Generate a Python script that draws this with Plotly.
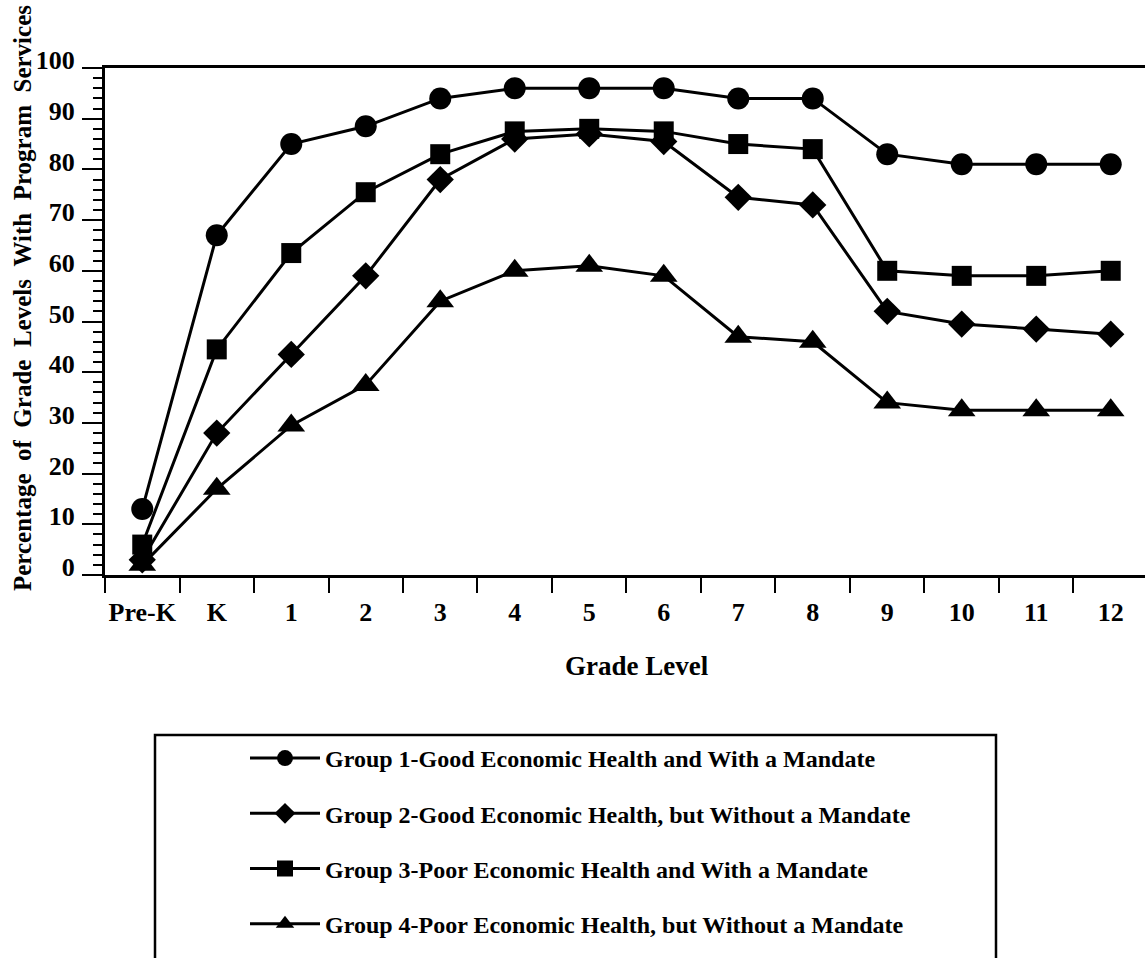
import plotly.graph_objects as go

grades = ["Pre-K", "K", "1", "2", "3", "4", "5", "6", "7", "8", "9", "10", "11", "12"]

group1 = [13, 67, 85, 88.5, 94, 96, 96, 96, 94, 94, 83, 81, 81, 81]
group2 = [3, 28, 43.5, 59, 78, 86, 87, 85.5, 74.5, 73, 52, 49.5, 48.5, 47.5]
group3 = [6, 44.5, 63.5, 75.5, 83, 87.5, 88, 87.5, 85, 84, 60, 59, 59, 60]
group4 = [2, 17, 29.5, 37.5, 54, 60, 61, 59, 47, 46, 34, 32.5, 32.5, 32.5]

names = [
    "Group 1-Good Economic Health and With a Mandate",
    "Group 2-Good Economic Health, but Without a Mandate",
    "Group 3-Poor Economic Health and With a Mandate",
    "Group 4-Poor Economic Health, but Without a Mandate",
]
y_ticks = list(range(0, 101, 10))

series = [group1, group2, group3, group4]
symbols = ["circle", "diamond", "square", "triangle-up"]
sizes = [22, 21, 20, 24]

FONT = "Liberation Serif"

fig = go.Figure()
for i, (nm, vals, sym, sz) in enumerate(zip(names, series, symbols, sizes)):
    fig.add_trace(go.Scatter(
        x=grades, y=vals, name=nm, mode="lines+markers",
        legendgroup=f"g{i}",
        line=dict(color="black", width=3),
        marker=dict(symbol=sym, size=sz, color="black", line=dict(width=0)),
        cliponaxis=False,
    ))

L, R, T, B = 105, 1145, 68, 575
W, H = 1145, 958


def px(x):
    return (x - L) / (R - L)


def py(y):
    return (B - y) / (B - T)


fig.update_layout(
    width=W, height=H,
    margin=dict(l=L, r=W - R, t=T, b=H - B, pad=0),
    paper_bgcolor="white", plot_bgcolor="white",
    font=dict(family=FONT, color="black", size=24, weight="bold"),
    showlegend=True,
    legend=dict(
        x=px(245), y=py(736), xanchor="left", yanchor="top",
        font=dict(family=FONT, size=24, color="black", weight="bold"),
        tracegroupgap=21, itemwidth=70,
        bgcolor="rgba(0,0,0,0)", borderwidth=0,
    ),
    xaxis=dict(
        type="category", range=[-0.5, 13.46],
        showline=True, linewidth=3, linecolor="black", mirror=True,
        ticks="outside", ticklen=15, tickwidth=2, tickcolor="black",
        tickson="boundaries", showgrid=False, zeroline=False,
        tickangle=0, ticklabelstandoff=12,
        tickfont=dict(family=FONT, size=26, color="black", weight="bold"),
    ),
    yaxis=dict(
        range=[0, 100], tickvals=y_ticks,
        showline=True, linewidth=3, linecolor="black",
        ticks="outside", ticklen=20, tickwidth=2, tickcolor="black",
        minor=dict(dtick=2, ticklen=9, tickwidth=2, ticks="outside",
                   tickcolor="black", showgrid=False),
        showgrid=False, zeroline=False,
        tickfont=dict(family=FONT, size=26, color="black", weight="bold"),
        ticklabelshift=-8, ticklabelstandoff=2,
    ),
    annotations=[
        dict(text="Grade Level", xref="paper", yref="paper",
             x=px(637), y=py(666), xanchor="center", yanchor="middle",
             showarrow=False,
             font=dict(family=FONT, size=27, color="black", weight="bold")),
        dict(text="Percentage\u00a0\u00a0of\u00a0\u00a0Grade\u00a0\u00a0Levels\u00a0\u00a0With\u00a0\u00a0Program\u00a0\u00a0Services",
             xref="paper", yref="paper", textangle=-90,
             x=px(22), y=py(298), xanchor="center", yanchor="middle",
             showarrow=False,
             font=dict(family=FONT, size=25, color="black", weight="bold")),
    ],
    shapes=[
        dict(type="rect", xref="paper", yref="paper",
             x0=px(155), x1=px(996), y0=py(975), y1=py(735),
             line=dict(color="black", width=2.5), fillcolor="rgba(0,0,0,0)"),
    ],
)

fig.write_html(
    "out.html",
    config={"displayModeBar": False},
    post_script="document.body.style.margin='0px';document.body.style.overflow='hidden';",
)
